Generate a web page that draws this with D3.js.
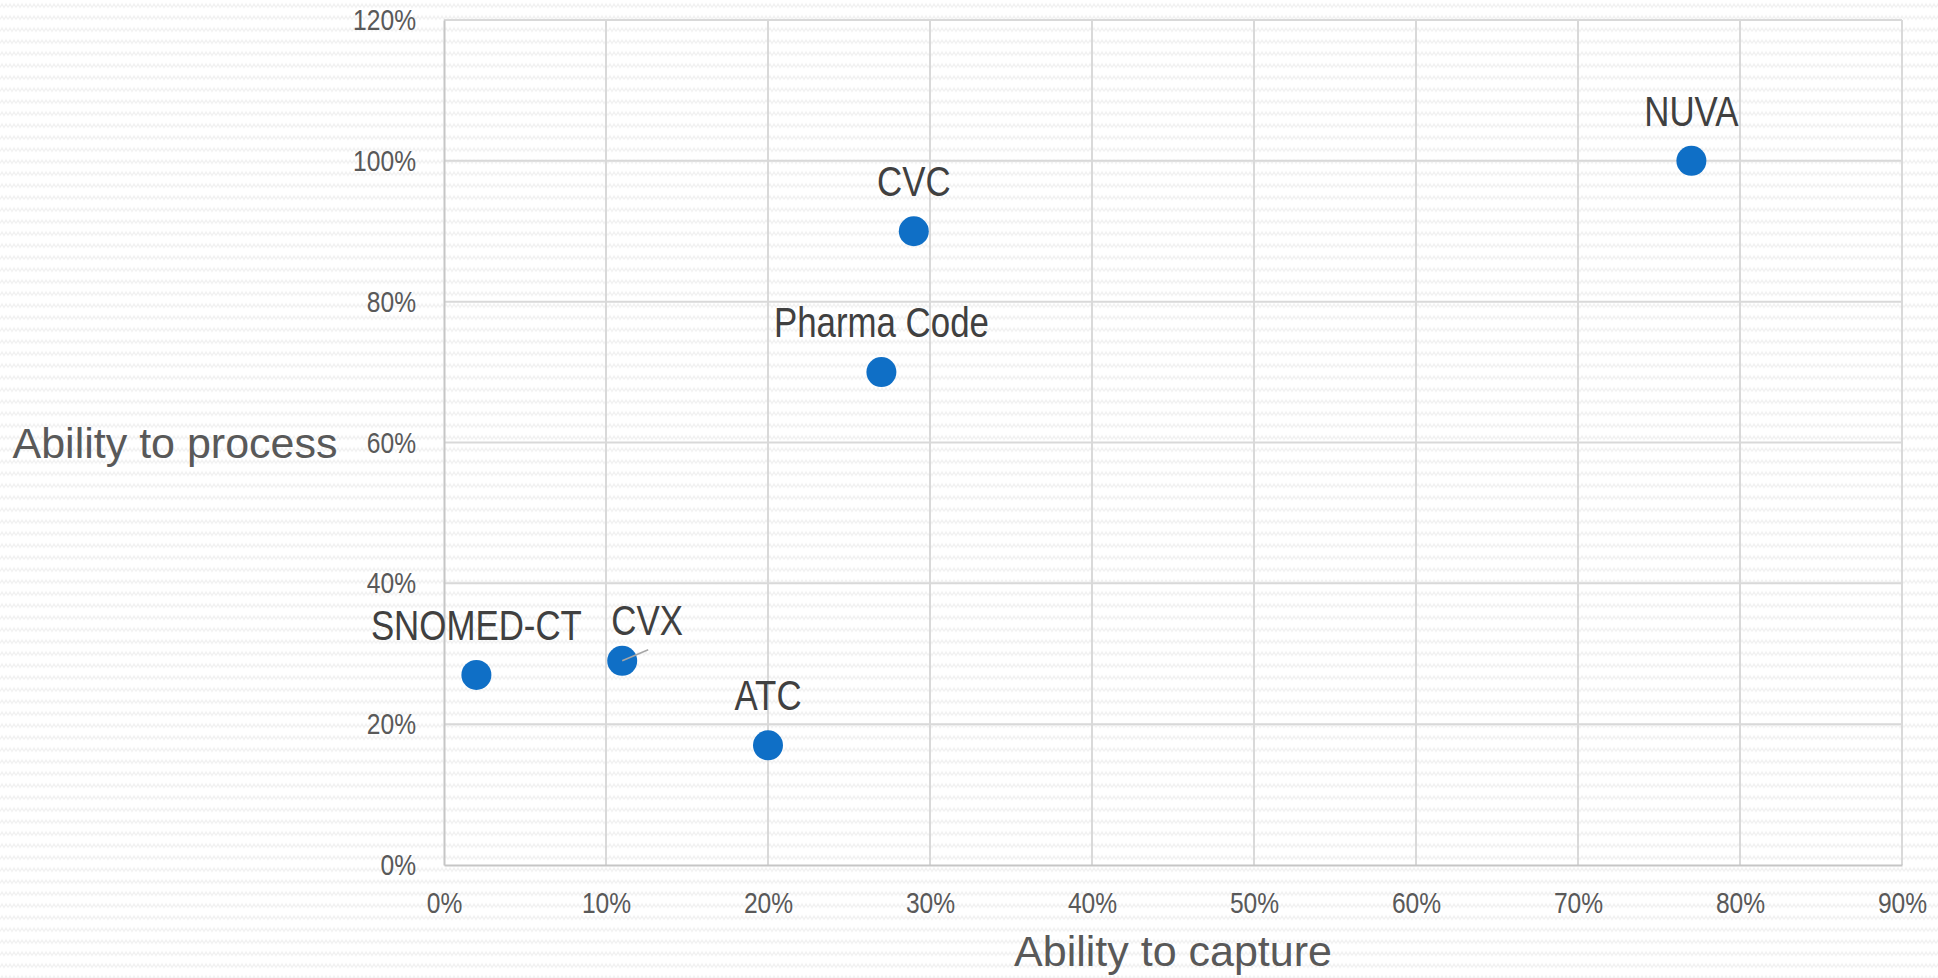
<!DOCTYPE html>
<html>
<head>
<meta charset="utf-8">
<script src="https://cdn.jsdelivr.net/npm/d3@7"></script>
<style>
  html, body { margin: 0; padding: 0; background: #fff; }
  svg { display: block; }
</style>
</head>
<body>
<svg id="chart" width="1938" height="978"></svg>
<script>
// data (percent)
var names   = ['NUVA', 'CVC', 'Pharma Code', 'SNOMED-CT', 'CVX', 'ATC'];
var capture = [77, 29, 27, 2, 11, 20];
var process = [100, 90, 70, 27, 29, 17];
var xTicks = [0, 10, 20, 30, 40, 50, 60, 70, 80, 90];
var yTicks = [0, 20, 40, 60, 80, 100, 120];

var sans = '"Liberation Sans", Arial, sans-serif';
var squeeze = 0.82;   // fake a narrow face by squeezing horizontally

// squeeze a text horizontally around its own anchor x
function narrowAt(ax){
  return 'translate(' + ax + ',0) scale(' + squeeze + ',1) translate(' + (-ax) + ',0)';
}

var svg = d3.select('#chart');
var W = 1938, H = 978;
var plotL = 444, plotR = 1902, plotT = 20, plotB = 865;

// wavy background texture
var defs = svg.append('defs');
var pat = defs.append('pattern')
  .attr('id', 'wave')
  .attr('patternUnits', 'userSpaceOnUse')
  .attr('width', 8).attr('height', 12);
pat.append('rect').attr('width', 8).attr('height', 12).attr('fill', '#fff');
pat.append('path')
  .attr('d', 'M0,7.5 L2,4 L4,7.5 L6,4 L8,7.5')
  .attr('fill', 'none')
  .attr('stroke', '#f1f1f1')
  .attr('stroke-width', 1.2);
svg.append('rect').attr('width', W).attr('height', H).attr('fill', 'url(#wave)');

var x = d3.scaleLinear().domain([0, 90]).range([plotL, plotR]);
var y = d3.scaleLinear().domain([0, 120]).range([plotB, plotT]);

// grid
svg.append('g').selectAll('line')
  .data(xTicks.slice(1))
  .enter().append('line')
  .attr('x1', function(d){ return x(d) }).attr('x2', function(d){ return x(d) })
  .attr('y1', plotT).attr('y2', plotB)
  .attr('stroke', '#d9d9d9').attr('stroke-width', 2);

svg.append('g').selectAll('line')
  .data(yTicks.slice(1))
  .enter().append('line')
  .attr('x1', plotL).attr('x2', plotR)
  .attr('y1', function(d){ return y(d) }).attr('y2', function(d){ return y(d) })
  .attr('stroke', '#d9d9d9').attr('stroke-width', 2);

// axes
var xAxis = d3.axisBottom(x).tickValues(xTicks).tickSize(0).tickPadding(27)
  .tickFormat(function(d){ return d + '%' });
var yAxis = d3.axisLeft(y).tickValues(yTicks).tickSize(0).tickPadding(28)
  .tickFormat(function(d){ return d + '%' });

var gx = svg.append('g').attr('transform', 'translate(0,' + plotB + ')').call(xAxis);
var gy = svg.append('g').attr('transform', 'translate(' + plotL + ',0)').call(yAxis);

[gx, gy].forEach(function(g){
  g.select('.domain').attr('stroke', '#c6c6c6').attr('stroke-width', 2);
  g.selectAll('text')
    .attr('font-family', sans)
    .attr('font-size', 30)
    .attr('fill', '#595959');
});
gx.selectAll('text').attr('transform', narrowAt(0));
gy.selectAll('text').attr('transform', narrowAt(-28));

// axis titles
svg.append('text')
  .attr('x', (plotL + plotR) / 2).attr('y', 966)
  .attr('text-anchor', 'middle')
  .attr('font-family', sans)
  .attr('font-size', 43).attr('fill', '#595959')
  .text('Ability to capture');

svg.append('text')
  .attr('x', 175).attr('y', 458)
  .attr('text-anchor', 'middle')
  .attr('font-family', sans)
  .attr('font-size', 43).attr('fill', '#595959')
  .text('Ability to process');

// points
var pts = names.map(function(n, i){ return { name: n, cx: capture[i], cy: process[i] } });

svg.append('g').selectAll('circle')
  .data(pts)
  .enter().append('circle')
  .attr('cx', function(d){ return x(d.cx) })
  .attr('cy', function(d){ return y(d.cy) })
  .attr('r', 15)
  .attr('fill', '#0f6fc6');

// CVX label sits off to the right, with a leader line drawn over its dot
var cvx = pts[4];
svg.append('line')
  .attr('x1', x(cvx.cx)).attr('y1', y(cvx.cy))
  .attr('x2', x(cvx.cx) + 26).attr('y2', y(cvx.cy) - 11)
  .attr('stroke', '#a6a6a6').attr('stroke-width', 1.5);

function labelX(d){ return d.name === 'CVX' ? x(d.cx) + 25 : x(d.cx) }

svg.append('g').selectAll('text')
  .data(pts)
  .enter().append('text')
  .attr('x', labelX)
  .attr('y', function(d){ return d.name === 'CVX' ? y(d.cy) - 26 : y(d.cy) - 35 })
  .attr('text-anchor', 'middle')
  .attr('transform', function(d){ return narrowAt(labelX(d)) })
  .attr('font-family', sans)
  .attr('font-size', 42.5)
  .attr('fill', '#404040')
  .text(function(d){ return d.name });
</script>
</body>
</html>
